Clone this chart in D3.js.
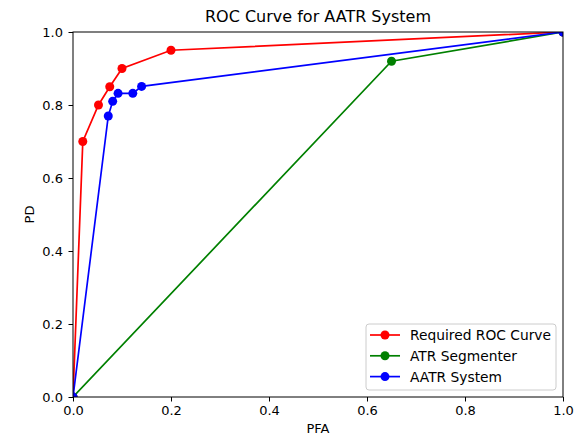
<!DOCTYPE html>
<html>
<head>
<meta charset="utf-8">
<script src="https://cdn.jsdelivr.net/npm/d3@7"></script>
<style>
  body { margin: 0; background: #fff; }
  svg text { font-family: "DejaVu Sans", sans-serif; fill: #000; }
</style>
</head>
<body>
<svg id="chart" width="574" height="438"></svg>
<script>
// series
let requiredPFA = [0, 0.02, 0.052, 0.075, 0.10, 0.20, 1.0]
let requiredPD = [0, 0.70, 0.80, 0.85, 0.90, 0.95, 1.0]
let segmenterPFA = [0, 0.65, 1.0]
let segmenterPD = [0, 0.92, 1.0]
let aatrPFA = [0, 0.072, 0.081, 0.092, 0.122, 0.14, 1.0]
let aatrPD = [0, 0.77, 0.81, 0.832, 0.832, 0.851, 1.0]
let seriesNames = ["Required ROC Curve", "ATR Segmenter", "AATR System"]
let seriesColors = ["#ff0000", "#008000", "#0000ff"]
let tickValues = [0, 0.2, 0.4, 0.6, 0.8, 1.0]

var marge = {top: 32, bottom: 41, left: 73, right: 11}
var svg = d3.select("svg")
var width = +svg.attr("width")
var height = +svg.attr("height")
var w = width - marge.left - marge.right
var h = height - marge.top - marge.bottom

var xScale = d3.scaleLinear().domain([0, 1]).range([0, w])
var yScale = d3.scaleLinear().domain([0, 1]).range([h, 0])

var g = svg.append("g").attr("transform", "translate(" + marge.left + "," + marge.top + ")")

// markers and lines are clipped to the axes box, like matplotlib
svg.append("defs").append("clipPath").attr("id", "plotclip")
  .append("rect").attr("width", w).attr("height", h)

// axes
var xAxis = d3.axisBottom(xScale).tickValues(tickValues).tickFormat(d3.format(".1f")).tickSize(4.5).tickPadding(4)
var yAxis = d3.axisLeft(yScale).tickValues(tickValues).tickFormat(d3.format(".1f")).tickSize(4.5).tickPadding(5.5)
g.append("g").attr("transform", "translate(0," + h + ")").call(xAxis)
g.append("g").call(yAxis)
g.selectAll(".tick text").style("font-size", "13px")
g.selectAll(".domain").remove()

var series = [
  {name: seriesNames[0], color: seriesColors[0], xs: requiredPFA, ys: requiredPD},
  {name: seriesNames[1], color: seriesColors[1], xs: segmenterPFA, ys: segmenterPD},
  {name: seriesNames[2], color: seriesColors[2], xs: aatrPFA, ys: aatrPD}
]

var line = d3.line().x(d => xScale(d[0])).y(d => yScale(d[1]))

var plot = g.append("g").attr("clip-path", "url(#plotclip)")
series.forEach(s => {
  var pts = s.xs.map((x, i) => [x, s.ys[i]])
  var sg = plot.append("g")
  sg.append("path").datum(pts)
    .attr("fill", "none").attr("stroke", s.color).attr("stroke-width", 1.7)
    .attr("d", line)
  sg.selectAll("circle").data(pts).join("circle")
    .attr("cx", d => xScale(d[0])).attr("cy", d => yScale(d[1]))
    .attr("r", 4.5).attr("fill", s.color)
})

// frame
g.append("rect").attr("x", 0).attr("y", 0).attr("width", w).attr("height", h)
  .attr("fill", "none").attr("stroke", "#000").attr("stroke-width", 1)

// titles
svg.append("text").attr("x", marge.left + w / 2).attr("y", 22)
  .attr("text-anchor", "middle").style("font-size", "16px").text("ROC Curve for AATR System")
svg.append("text").attr("x", marge.left + w / 2).attr("y", 433)
  .attr("text-anchor", "middle").style("font-size", "13px").text("PFA")
svg.append("text").attr("transform", "translate(33.5," + (marge.top + h / 2) + ") rotate(-90)")
  .attr("text-anchor", "middle").style("font-size", "13px").text("PD")

// legend
var legend = svg.append("g").attr("transform", "translate(366,324)")
legend.append("rect").attr("width", 190).attr("height", 66).attr("rx", 3)
  .attr("fill", "#fff").attr("fill-opacity", 0.8).attr("stroke", "#cccccc")
series.forEach((s, i) => {
  var ly = 11 + i * 20.8
  legend.append("line").attr("x1", 4).attr("x2", 34).attr("y1", ly).attr("y2", ly)
    .attr("stroke", s.color).attr("stroke-width", 1.7)
  legend.append("circle").attr("cx", 19).attr("cy", ly).attr("r", 4.5).attr("fill", s.color)
  legend.append("text").attr("x", 44).attr("y", ly).attr("dy", "0.36em")
    .style("font-size", "13.8px").text(s.name)
})
</script>
</body>
</html>
